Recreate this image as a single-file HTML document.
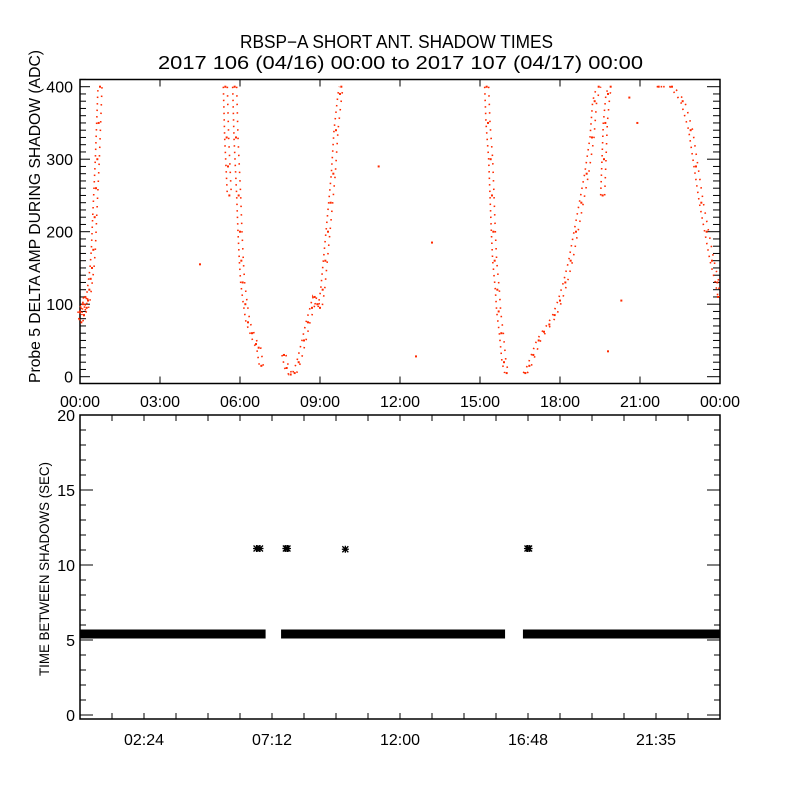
<!DOCTYPE html>
<html><head><meta charset="utf-8"><style>
html,body{margin:0;padding:0;background:#fff;}
svg{display:block;}
text{font-family:"Liberation Sans",sans-serif;fill:#000;}
</style></head><body>
<svg id="chart" width="800" height="800" viewBox="0 0 800 800" xmlns="http://www.w3.org/2000/svg">
<rect width="800" height="800" fill="#fff"/>
<text x="240" y="48" font-size="18" textLength="313" lengthAdjust="spacingAndGlyphs">RBSP−A SHORT ANT. SHADOW TIMES</text>
<text x="158" y="69" font-size="18" textLength="485" lengthAdjust="spacingAndGlyphs">2017 106 (04/16) 00:00 to 2017 107 (04/17) 00:00</text>
<g id="topPanel"></g>
<g id="botPanel"></g>
</svg>
<script>
// ---- top panel data (hours, ADC) ----
const segA_t=[0.0,0.05,0.1,0.15,0.2,0.25,0.3,0.35,0.4,0.45,0.5,0.55,0.6,0.65,0.7,0.75];
const segA_v=[90,75,100,85,110,95,105,120,135,150,175,220,260,300,350,400];
const segB1_t=[5.45,5.5,5.55,5.6];
const segB1_v=[400,330,290,250];
const segB_t=[5.8,5.85,5.95,6.0,6.05,6.1,6.2,6.3,6.45,6.6,6.7,6.8];
const segB_v=[400,330,250,200,160,130,100,75,60,45,40,15];
const segC_t=[7.65,7.75,7.9,8.05,8.2,8.4,8.55,8.7,8.8,8.9,9.0,9.1,9.2,9.3,9.4,9.5,9.6,9.75,9.8];
const segC_v=[30,12,3,5,20,50,75,95,110,100,95,120,160,200,240,280,340,390,400];
const segD_t=[15.25,15.3,15.4,15.45,15.5,15.55,15.65,15.7,15.8,15.9,16.0];
const segD_v=[400,350,300,250,200,160,120,90,60,20,5];
const segE_t=[16.7,16.85,17.0,17.2,17.4,17.6,17.8,18.0,18.2,18.4,18.6,18.8,19.0,19.2,19.3,19.45];
const segE_v=[5,15,30,50,62,72,85,105,130,160,200,240,280,330,380,400];
const segE2_t=[19.6,19.65,19.7,19.8,19.9];
const segE2_v=[250,300,350,390,400];
const segF_t=[21.7,22.2,22.6,22.9,23.1,23.3,23.5,23.7,23.9,24.0];
const segF_v=[400,400,380,340,290,240,200,160,130,110];
const stray_t=[4.5,11.2,13.2,12.6,20.3,19.8,20.6,20.9];
const stray_v=[155,290,185,28,105,35,385,350];
const topXTicks=["00:00","03:00","06:00","09:00","12:00","15:00","18:00","21:00","00:00"];
const topYTicks=[0,100,200,300,400];
// ---- bottom panel data ----
const bandStart=[0.0,7.54,16.61];
const bandEnd=[6.96,15.94,24.0];
const bandValue=[5.4,5.4,5.4];
const star_t=[6.62,6.75,7.72,7.78,9.95,16.78,16.84];
const star_v=[11.1,11.1,11.1,11.1,11.05,11.1,11.1];
const botXTicks=["02:24","07:12","12:00","16:48","21:35"];
const botYTicks=[0,5,10,15,20];

const NS="http://www.w3.org/2000/svg";
function mk(tag,attrs,parent){const e=document.createElementNS(NS,tag);for(const k in attrs)e.setAttribute(k,attrs[k]);parent.appendChild(e);return e;}
const X0=80,X1=720;
const xs=h=>X0+h*(X1-X0)/24;
// top
const T0=79.5,T1=383.5;
const ty=v=>376.7-v*290/400;
const topG=document.getElementById('topPanel');
const tf=mk('rect',{x:X0,y:T0,width:X1-X0,height:T1-T0,fill:'none',stroke:'#000','stroke-width':1.5},topG);


for(let v=0;v<=410;v+=10){const major=v%100===0;const L=major?10:6;
 mk('line',{x1:X0,x2:X0+L,y1:ty(v),y2:ty(v),stroke:'#000'},topG);
 mk('line',{x1:X1,x2:X1-(major?13:7),y1:ty(v),y2:ty(v),stroke:'#000'},topG);}
topYTicks.forEach(v=>{const t=mk('text',{x:73,y:ty(v)+6,'font-size':16,'text-anchor':'end'},topG);t.textContent=v;
 
 });
topXTicks.forEach((s,i)=>{const x=xs(i*3);
 mk('line',{x1:x,x2:x,y1:T0,y2:T0+7,stroke:'#000'},topG);
 mk('line',{x1:x,x2:x,y1:T1,y2:T1-7,stroke:'#000'},topG);
 const t=mk('text',{x:x-20,y:407,'font-size':16,textLength:40,lengthAdjust:'spacingAndGlyphs'},topG);t.textContent=s;
 
 });
const yl=mk('text',{x:0,y:0,'font-size':15.5,transform:'translate(40,383) rotate(-90)',textLength:333,lengthAdjust:'spacingAndGlyphs'},topG);
yl.textContent='Probe 5 DELTA AMP DURING SHADOW (ADC)';


const segs=[[segA_t,segA_v],[segB1_t,segB1_v],[segB_t,segB_v],[segC_t,segC_v],[segD_t,segD_v],[segE_t,segE_v],[segE2_t,segE2_v],[segF_t,segF_v]];
segs.forEach(([t,v])=>{
 [[-2,'1.5 5'],[2,'1.5 7']].forEach(([off,da])=>{
  const pts=t.map((h,i)=>(Math.min(xs(h)+off,X1-1))+','+ty(v[i])).join(' ');
  const pl=mk('polyline',{points:pts,fill:'none',stroke:'#ff2a00','stroke-width':1.6,'stroke-dasharray':da},topG);
  
  
 });
 t.forEach((h,i)=>{const r=mk('rect',{x:Math.min(xs(h),X1-2)-1,y:ty(v[i])-1,width:2,height:2,fill:'#ff2a00'},topG);
  
  });
});
stray_t.forEach((h,i)=>{const r=mk('rect',{x:xs(h)-1,y:ty(stray_v[i])-1,width:2,height:2,fill:'#ff2a00'},topG);
 
 });
// bottom
const B0=415,B1=719;
const by=v=>715-v*15;
const botG=document.getElementById('botPanel');
const bf=mk('rect',{x:X0,y:B0,width:X1-X0,height:B1-B0,fill:'none',stroke:'#000','stroke-width':1.5},botG);


for(let v=0;v<=20;v+=1){const major=v%5===0;const L=major?13:6;
 mk('line',{x1:X0,x2:X0+L,y1:by(v),y2:by(v),stroke:'#000'},botG);
 mk('line',{x1:X1,x2:X1-L,y1:by(v),y2:by(v),stroke:'#000'},botG);}
botYTicks.forEach(v=>{const t=mk('text',{x:75,y:by(v)+6,'font-size':16,'text-anchor':'end'},botG);t.textContent=v;
 
 });
for(let k=1;k<20;k++){const x=X0+k*32;
 mk('line',{x1:x,x2:x,y1:B0,y2:B0+6,stroke:'#000'},botG);
 mk('line',{x1:x,x2:x,y1:B1,y2:B1-6,stroke:'#000'},botG);}
botXTicks.forEach((s,i)=>{const x=X0+64+i*128;
 const t=mk('text',{x:x-20,y:745,'font-size':16,textLength:40,lengthAdjust:'spacingAndGlyphs'},botG);t.textContent=s;
 
 });
const yl2=mk('text',{x:0,y:0,'font-size':14,transform:'translate(49,676) rotate(-90)',textLength:214,lengthAdjust:'spacingAndGlyphs'},botG);
yl2.textContent='TIME BETWEEN SHADOWS (SEC)';


bandStart.forEach((s,i)=>{const r=mk('rect',{x:xs(s),y:by(bandValue[i])-4.5,width:xs(bandEnd[i])-xs(s),height:9,fill:'#000'},botG);
 
 });
star_t.forEach((h,i)=>{const cx=xs(h),cy=by(star_v[i]);
 const p=mk('path',{d:`M${cx-3.5},${cy}H${cx+3.5}M${cx},${cy-3.5}V${cy+3.5}M${cx-3},${cy-3}L${cx+3},${cy+3}M${cx-3},${cy+3}L${cx+3},${cy-3}`,stroke:'#000','stroke-width':1.3},botG);
 
 });
</script>
</body></html>
